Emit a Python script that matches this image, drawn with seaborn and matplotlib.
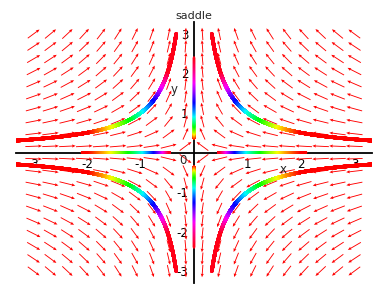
import numpy as np
import pandas as pd
import matplotlib
matplotlib.use("Agg")
import matplotlib.pyplot as plt
import seaborn as sns

# ---- data ----
title = "saddle"
grid_x = np.linspace(-3, 3, 20)          # direction-field grid
grid_y = np.linspace(-3, 3, 20)
x_ticks = [-3, -2, -1, 1, 2, 3]
y_ticks = [-3, -2, -1, 1, 2, 3]
quadrants = [(1, 1), (-1, 1), (1, -1), (-1, -1)]   # hyperbolas x*y = +-1
s_range = (np.log(1 / 3), np.log(10 / 3))           # s = ln|x| along each hyperbola
x_axis_traj = (0.45, 2.1)   # |x| span of trajectories lying on x-axis
y_axis_traj = (0.35, 2.4)   # |y| span of trajectories lying on y-axis


def field(x, y):
    return -x, y


sns.set_style("white")
plt.rcParams["font.family"] = ["DejaVu Sans"]
plt.rcParams["axes.unicode_minus"] = False

fig = plt.figure(figsize=(3.88, 2.88), dpi=100)
ax = fig.add_axes([16 / 388, 1 - 283 / 288, 356 / 388, 261 / 288])
ax.set_xlim(-3.33, 3.33)
ax.set_ylim(-3.3, 3.3)

# direction field
X, Y = np.meshgrid(grid_x, grid_y)
U, V = field(X, Y)
L = np.hypot(U, V)
L[L == 0] = 1
alen = 0.31
U = U / L * alen
V = V / L * alen
ax.quiver(X, Y, U, V, color="#ff0000", angles="xy", scale_units="xy", scale=1,
          pivot="middle", units="dots", width=0.9, headwidth=3.5, headlength=4,
          headaxislength=3.5, zorder=1)

# trajectories (hyperbolas), coloured by time
rows = []
s = np.linspace(s_range[0], s_range[1], 5000)
hue = np.clip((0.7 - s) / 1.4, 0, 1)
for qx, qy in quadrants:
    xs = qx * np.exp(s)
    ys = qy * np.exp(-s)
    rows.append(pd.DataFrame({"x": xs, "y": ys, "h": hue}))
df = pd.concat(rows, ignore_index=True)
sns.scatterplot(data=df, x="x", y="y", hue="h", palette="hsv", hue_norm=(0, 1),
                s=6.5, linewidth=0, legend=False, ax=ax, zorder=3)

# trajectories on the axes (thin)
rows = []
ax_s = np.linspace(np.log(x_axis_traj[0]), np.log(x_axis_traj[1]), 1500)
hx = np.clip((0.7 - ax_s) / 1.4, 0, 1)
for sg in (1, -1):
    rows.append(pd.DataFrame({"x": sg * np.exp(ax_s), "y": 0.0, "h": hx}))
ay_s = np.linspace(np.log(y_axis_traj[0]), np.log(y_axis_traj[1]), 1500)
hy = np.clip((ay_s - np.log(y_axis_traj[0])) /
             (np.log(y_axis_traj[1]) - np.log(y_axis_traj[0])), 0, 1)
for sg in (1, -1):
    rows.append(pd.DataFrame({"x": 0.0, "y": sg * np.exp(ay_s), "h": hy}))
dfa = pd.concat(rows, ignore_index=True)
sns.scatterplot(data=dfa, x="x", y="y", hue="h", palette="hsv", hue_norm=(0, 1),
                s=2.5, linewidth=0, legend=False, ax=ax, zorder=4)

# axes through the origin
for side in ("top", "right"):
    ax.spines[side].set_visible(False)
ax.spines["left"].set_position(("data", 0))
ax.spines["bottom"].set_position(("data", 0))
for side in ("left", "bottom"):
    ax.spines[side].set_color("black")
    ax.spines[side].set_linewidth(1.3)
    ax.spines[side].set_zorder(2.5)

ax.set_xticks(x_ticks)
ax.set_xticklabels([str(t) for t in x_ticks])
ax.set_yticks(y_ticks)
ax.set_yticklabels([str(t) for t in y_ticks])
minor = [round(v, 1) for v in np.arange(-3.2, 3.3, 0.2)]
ax.set_xticks(minor, minor=True)
ax.set_yticks(minor, minor=True)
ax.tick_params(axis="x", which="major", direction="out", length=4, width=1,
               pad=0, labelsize=8.5, colors="black")
ax.tick_params(axis="x", which="minor", direction="out", length=2, width=1)
ax.tick_params(axis="y", which="major", direction="in", length=4, width=1,
               pad=4, labelsize=8.5, colors="black")
ax.tick_params(axis="y", which="minor", direction="in", length=2, width=1)
ax.set_xlabel("")
ax.set_ylabel("")
ax.text(-0.2, -0.03, "0", ha="center", va="top", fontsize=8.5)
ax.text(1.67, -0.42, "x", ha="center", va="center", fontsize=8.5)
ax.text(-0.38, 1.6, "y", ha="center", va="center", fontsize=8.5)
fig.text(194 / 388, 1 - 16 / 288, title, ha="center", va="center", fontsize=8)

fig.savefig("out.png", dpi=100)
